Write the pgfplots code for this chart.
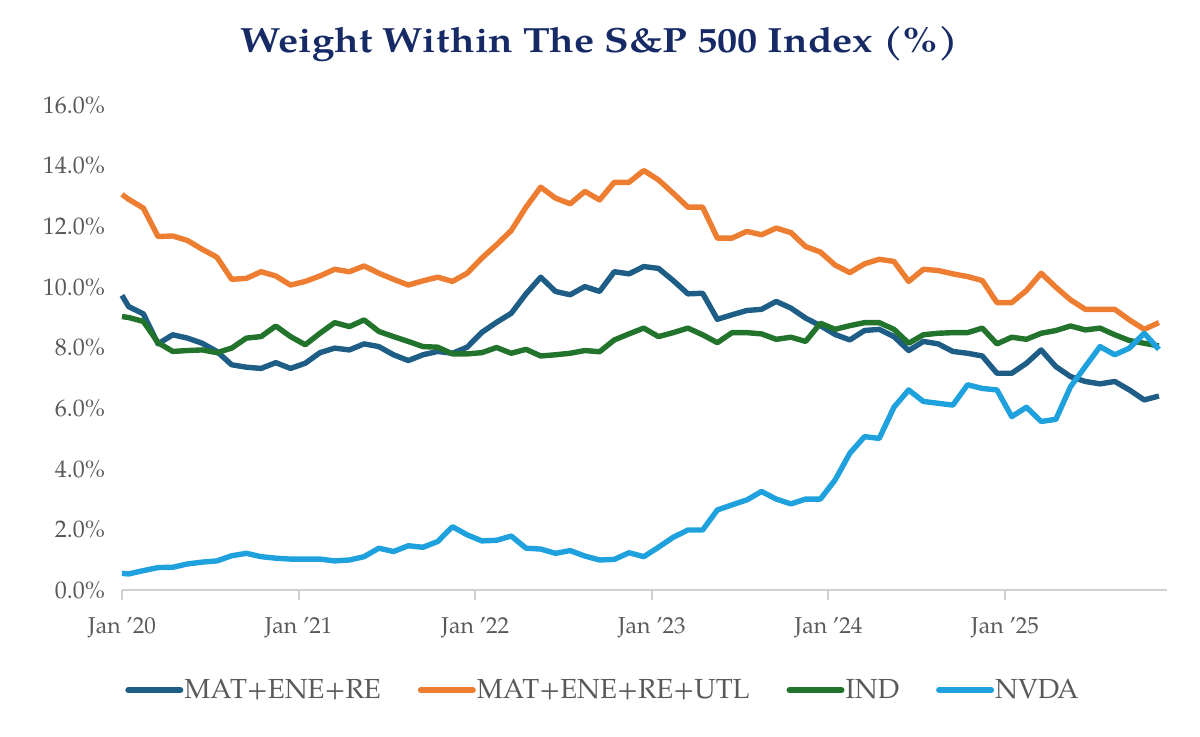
\documentclass[border=0pt]{standalone}
\usepackage{fontspec}
\setmainfont{texgyrepagella}[Extension=.otf, UprightFont=*-regular, BoldFont=*-bold, ItalicFont=*-italic, BoldItalicFont=*-bolditalic]
\newfontfamily\titlefont{texgyrepagella}[Extension=.otf, UprightFont=*-bold, FakeStretch=1.15]
\usepackage{pgfplots}
\usepackage{pgfplotstable}
\pgfplotsset{compat=1.18}
\definecolor{cB}{RGB}{30,93,133}
\definecolor{cO}{RGB}{237,125,49}
\definecolor{cG}{RGB}{34,116,44}
\definecolor{cN}{RGB}{31,161,222}
\definecolor{navy}{RGB}{22,42,102}
\definecolor{txtgray}{RGB}{89,89,89}
\definecolor{axgray}{RGB}{208,208,208}
\pgfplotstableread{
m B O G N
0 9.72 13.05 9.02 0.55
0.45 9.35 12.89 8.99 0.53
1.45 9.11 12.60 8.86 0.64
2.45 8.12 11.66 8.16 0.74
3.45 8.42 11.68 7.87 0.75
4.45 8.31 11.53 7.90 0.86
5.45 8.14 11.24 7.92 0.92
6.45 7.87 10.98 7.83 0.96
7.45 7.43 10.25 7.98 1.13
8.45 7.35 10.28 8.31 1.21
9.45 7.31 10.50 8.36 1.10
10.45 7.50 10.36 8.71 1.05
11.45 7.31 10.06 8.36 1.02
12.45 7.48 10.18 8.09 1.02
13.45 7.83 10.36 8.47 1.02
14.45 7.98 10.58 8.82 0.96
15.45 7.92 10.50 8.69 0.99
16.45 8.12 10.69 8.91 1.10
17.45 8.03 10.45 8.53 1.38
18.45 7.76 10.25 8.36 1.27
19.45 7.57 10.06 8.20 1.46
20.45 7.76 10.20 8.03 1.41
21.45 7.87 10.32 8.01 1.60
22.45 7.81 10.18 7.79 2.09
23.45 8.01 10.45 7.79 1.82
24.45 8.50 10.95 7.83 1.62
25.45 8.83 11.39 8.00 1.64
26.45 9.13 11.86 7.81 1.78
27.45 9.77 12.63 7.94 1.38
28.45 10.32 13.29 7.72 1.35
29.45 9.85 12.93 7.76 1.21
30.45 9.74 12.74 7.81 1.30
31.45 10.01 13.15 7.90 1.12
32.45 9.85 12.87 7.86 0.99
33.45 10.50 13.45 8.25 1.01
34.45 10.43 13.45 8.45 1.23
35.45 10.67 13.84 8.64 1.10
36.45 10.61 13.53 8.36 1.41
37.45 10.21 13.09 8.49 1.74
38.45 9.77 12.63 8.64 1.98
39.45 9.79 12.63 8.42 1.98
40.45 8.93 11.61 8.16 2.64
41.45 9.08 11.61 8.49 2.81
42.45 9.22 11.83 8.49 2.97
43.45 9.26 11.72 8.45 3.25
44.45 9.52 11.94 8.27 3.00
45.45 9.30 11.79 8.34 2.84
46.45 8.97 11.33 8.20 3.00
47.45 8.72 11.15 8.80 3.00
48.45 8.43 10.72 8.60 3.63
49.45 8.25 10.47 8.72 4.51
50.45 8.56 10.76 8.82 5.06
51.45 8.60 10.91 8.82 5.00
52.45 8.36 10.84 8.60 6.03
53.45 7.90 10.18 8.14 6.60
54.45 8.20 10.58 8.42 6.22
55.45 8.12 10.54 8.47 6.16
56.45 7.87 10.43 8.49 6.10
57.45 7.81 10.34 8.49 6.77
58.45 7.72 10.21 8.64 6.65
59.45 7.15 9.48 8.12 6.60
60.45 7.15 9.48 8.34 5.72
61.45 7.48 9.88 8.27 6.03
62.45 7.92 10.45 8.47 5.56
63.45 7.37 9.99 8.56 5.63
64.45 7.04 9.57 8.71 6.71
65.45 6.88 9.26 8.58 7.37
66.45 6.80 9.26 8.64 8.03
67.45 6.88 9.26 8.42 7.76
68.45 6.60 8.91 8.23 7.98
69.45 6.27 8.60 8.14 8.47
70.45 6.40 8.82 8.05 7.94
}\data
\begin{document}
\begin{tikzpicture}
\begin{axis}[
  scale only axis,
  width=522.5pt, height=242.5pt,
  xmin=0, xmax=71, ymin=0, ymax=16,
  axis x line=bottom, axis y line=left,
  axis line style={-},
  x axis line style={draw=axgray, line width=1pt},
  y axis line style={draw=none},
  xtick={0,12,24,36,48,60},
  xticklabels={Jan '20,Jan '21,Jan '22,Jan '23,Jan '24,Jan '25},
  ytick={0,2,4,6,8,10,12,14,16},
  yticklabels={0.0\%,2.0\%,4.0\%,6.0\%,8.0\%,10.0\%,12.0\%,14.0\%,16.0\%},
  tick align=outside,
  major tick length=5pt,
  xtick style={draw=axgray, line width=1pt},
  ytick style={draw=none},
  ticklabel style={font=\fontsize{12}{14}\selectfont, text=txtgray},
  xticklabel style={yshift=-5pt, font=\fontsize{11.5}{14}\selectfont},
  legend columns=4,
  legend style={at={(0.4598,-0.2062)}, anchor=center, draw=none, fill=none,
    font=\fontsize{13.8}{16}\selectfont, text=txtgray,
    /tikz/every even column/.append style={column sep=18pt},
    nodes={inner xsep=0.5pt}},
  legend image code/.code={\draw[#1, line width=3pt, line cap=round] (0pt,0pt) -- (26pt,0pt);},
  every axis plot/.append style={line width=2.7pt, line join=round, mark=none},
  clip=false,
]
\addplot[cB] table[x=m, y=B] {\data};
\addlegendentry{MAT+ENE+RE}
\addplot[cO] table[x=m, y=O] {\data};
\addlegendentry{MAT+ENE+RE+UTL}
\addplot[cG] table[x=m, y=G] {\data};
\addlegendentry{IND}
\addplot[cN] table[x=m, y=N] {\data};
\addlegendentry{NVDA}
\end{axis}
\node[anchor=base, text=navy, font=\fontsize{17.5}{21}\titlefont] at (238.75pt,269pt) {Weight Within The S\&P 500 Index (\%)};
\pgfresetboundingbox
\path[use as bounding box] (-61pt,-73pt) rectangle (539pt,295pt);
\end{tikzpicture}
\end{document}
